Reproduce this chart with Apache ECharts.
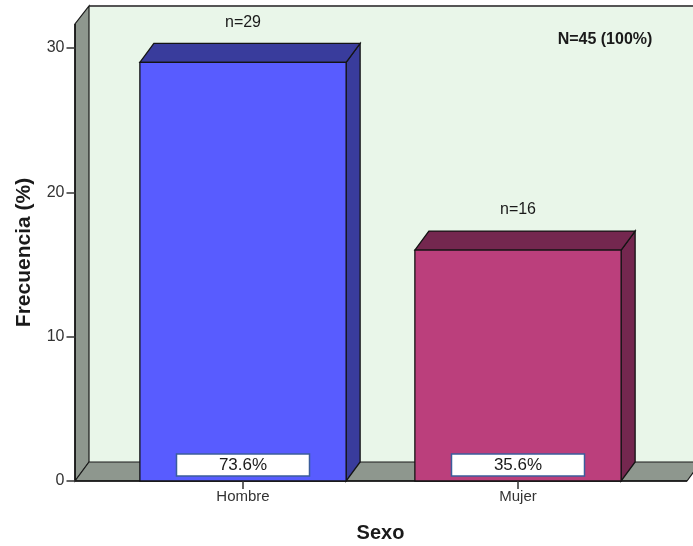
<!DOCTYPE html>
<html>
<head>
<meta charset="utf-8">
<script src="https://cdn.jsdelivr.net/npm/echarts@6/dist/echarts.min.js"></script>
<style>
  html, body { margin: 0; padding: 0; background: #ffffff; }
  #chart { width: 693px; height: 546px; }
</style>
</head>
<body>
<div id="chart"></div>
<script>
// Frecuencia por sexo
const categories = ['Hombre', 'Mujer'];
const counts = [29, 16];
const percentLabels = ['73.6%', '35.6%'];
const yTicks = [0, 10, 20, 30];
const totalLabel = 'N=45 (100%)';

const FONT = '"Liberation Sans", Arial, sans-serif';
const DEPTH_X = 14, DEPTH_Y = -19;
const barStyles = [
  { front: '#585cff', dark: '#393c9c' },
  { front: '#bb3f7c', dark: '#74274f' }
];

const chart = echarts.init(document.getElementById('chart'), null, { renderer: 'canvas' });

// 3D frame: back wall, left wall and floor, built from the grid rectangle
function renderFrame(params, api) {
  const cs = params.coordSys;
  const x0 = cs.x - 30.5, x1 = cs.x + cs.width + 31.5;
  const y0 = cs.y, y1 = cs.y + cs.height;
  const dx = DEPTH_X, dy = DEPTH_Y;
  const edge = { stroke: '#1a1a1a', lineWidth: 1.2 };
  return {
    type: 'group',
    children: [
      { type: 'rect', shape: { x: x0 + dx, y: y0 + dy + 1, width: x1 - x0 + 20, height: y1 - y0 },
        style: { fill: '#e9f6e9' } },
      { type: 'line', shape: { x1: x0 + dx, y1: y0 + dy + 1, x2: x1 + dx + 20, y2: y0 + dy + 1 },
        style: { stroke: '#555', lineWidth: 2 } },
      { type: 'polygon', shape: { points: [[x0, y1], [x0, y0], [x0 + dx, y0 + dy + 1], [x0 + dx, y1 + dy]] },
        style: Object.assign({ fill: '#8e978e' }, edge) },
      { type: 'polygon', shape: { points: [[x0, y1], [x0 + dx, y1 + dy], [x1 + dx, y1 + dy], [x1, y1]] },
        style: Object.assign({ fill: '#8e978e' }, edge) },
      { type: 'line', shape: { x1: x0, y1: y1, x2: x1, y2: y1 },
        style: { stroke: '#111', lineWidth: 1.5 } },
      { type: 'line', shape: { x1: x0, y1: y0, x2: x0, y2: y1 },
        style: { stroke: '#111', lineWidth: 1.5 } }
    ]
  };
}

// 3D bars with count label on top and percentage box at the base
function renderBar(params, api) {
  const idx = api.value(0);
  const v = api.value(1);
  const top = api.coord([idx, v]);
  const base = api.coord([idx, 0]);
  const w = api.size([1, 0])[0] * 0.75;
  const xa = top[0] - w / 2, xb = top[0] + w / 2;
  const yt = top[1], yb = base[1];
  const dx = DEPTH_X, dy = DEPTH_Y;
  const st = barStyles[params.dataIndex];
  const edge = { stroke: '#141414', lineWidth: 1.3 };
  return {
    type: 'group',
    children: [
      { type: 'polygon', shape: { points: [[xb, yt], [xb + dx, yt + dy], [xb + dx, yb + dy], [xb, yb]] },
        style: Object.assign({ fill: st.dark }, edge) },
      { type: 'polygon', shape: { points: [[xa, yt], [xa + dx, yt + dy], [xb + dx, yt + dy], [xb, yt]] },
        style: Object.assign({ fill: st.dark }, edge) },
      { type: 'rect', shape: { x: xa, y: yt, width: w, height: yb - yt },
        style: Object.assign({ fill: st.front }, edge) },
      { type: 'text', x: top[0], y: yt + dy - 21,
        style: { text: 'n=' + counts[params.dataIndex], fill: '#1a1a1a', font: '16px ' + FONT,
                 align: 'center', verticalAlign: 'middle' } },
      { type: 'rect', shape: { x: top[0] - 66.5, y: yb - 27, width: 133, height: 22 },
        style: { fill: '#ffffff', stroke: '#3b5d9c', lineWidth: 1.5 } },
      { type: 'text', x: top[0], y: yb - 16,
        style: { text: percentLabels[params.dataIndex], fill: '#1a1a1a', font: '17px ' + FONT,
                 align: 'center', verticalAlign: 'middle' } }
    ]
  };
}

chart.setOption({
  animation: false,
  backgroundColor: '#ffffff',
  title: {
    text: totalLabel,
    left: 600, top: 27, textAlign: 'center',
    textStyle: { fontFamily: FONT, fontSize: 16, fontWeight: 'bold', color: '#1a1a1a' }
  },
  grid: { left: 105.5, right: 37.5, top: 24, bottom: 65, containLabel: false, outerBoundsMode: 'none' },
  xAxis: {
    type: 'category',
    data: categories,
    name: 'Sexo',
    nameLocation: 'middle',
    nameGap: 42,
    nameTextStyle: { fontFamily: FONT, fontSize: 20, fontWeight: 'bold', color: '#1a1a1a' },
    axisLine: { show: false },
    axisTick: { show: true, alignWithLabel: true, length: 8, lineStyle: { color: '#333', width: 1.5 } },
    axisLabel: { fontFamily: FONT, fontSize: 15, color: '#333', margin: 8 },
    splitLine: { show: false },
    z: 5
  },
  yAxis: {
    type: 'value',
    min: 0,
    max: 31.66,
    offset: 30,
    name: 'Frecuencia (%)',
    nameLocation: 'middle',
    nameRotate: 90,
    nameGap: 41,
    nameTextStyle: { fontFamily: FONT, fontSize: 21, fontWeight: 'bold', color: '#1a1a1a' },
    axisLine: { show: false },
    axisTick: { show: true, customValues: yTicks, length: 9, lineStyle: { color: '#333', width: 1.5 } },
    axisLabel: { customValues: yTicks, fontFamily: FONT, fontSize: 16, color: '#333', margin: 11 },
    splitLine: { show: false },
    z: 5
  },
  series: [
    {
      type: 'custom',
      name: 'marco',
      renderItem: renderFrame,
      data: [[0, 0]],
      clip: false,
      silent: true,
      z: 1
    },
    {
      type: 'custom',
      name: 'Frecuencia',
      renderItem: renderBar,
      data: categories.map((c, i) => [i, counts[i]]),
      clip: false,
      z: 3
    }
  ]
});
</script>
</body>
</html>
